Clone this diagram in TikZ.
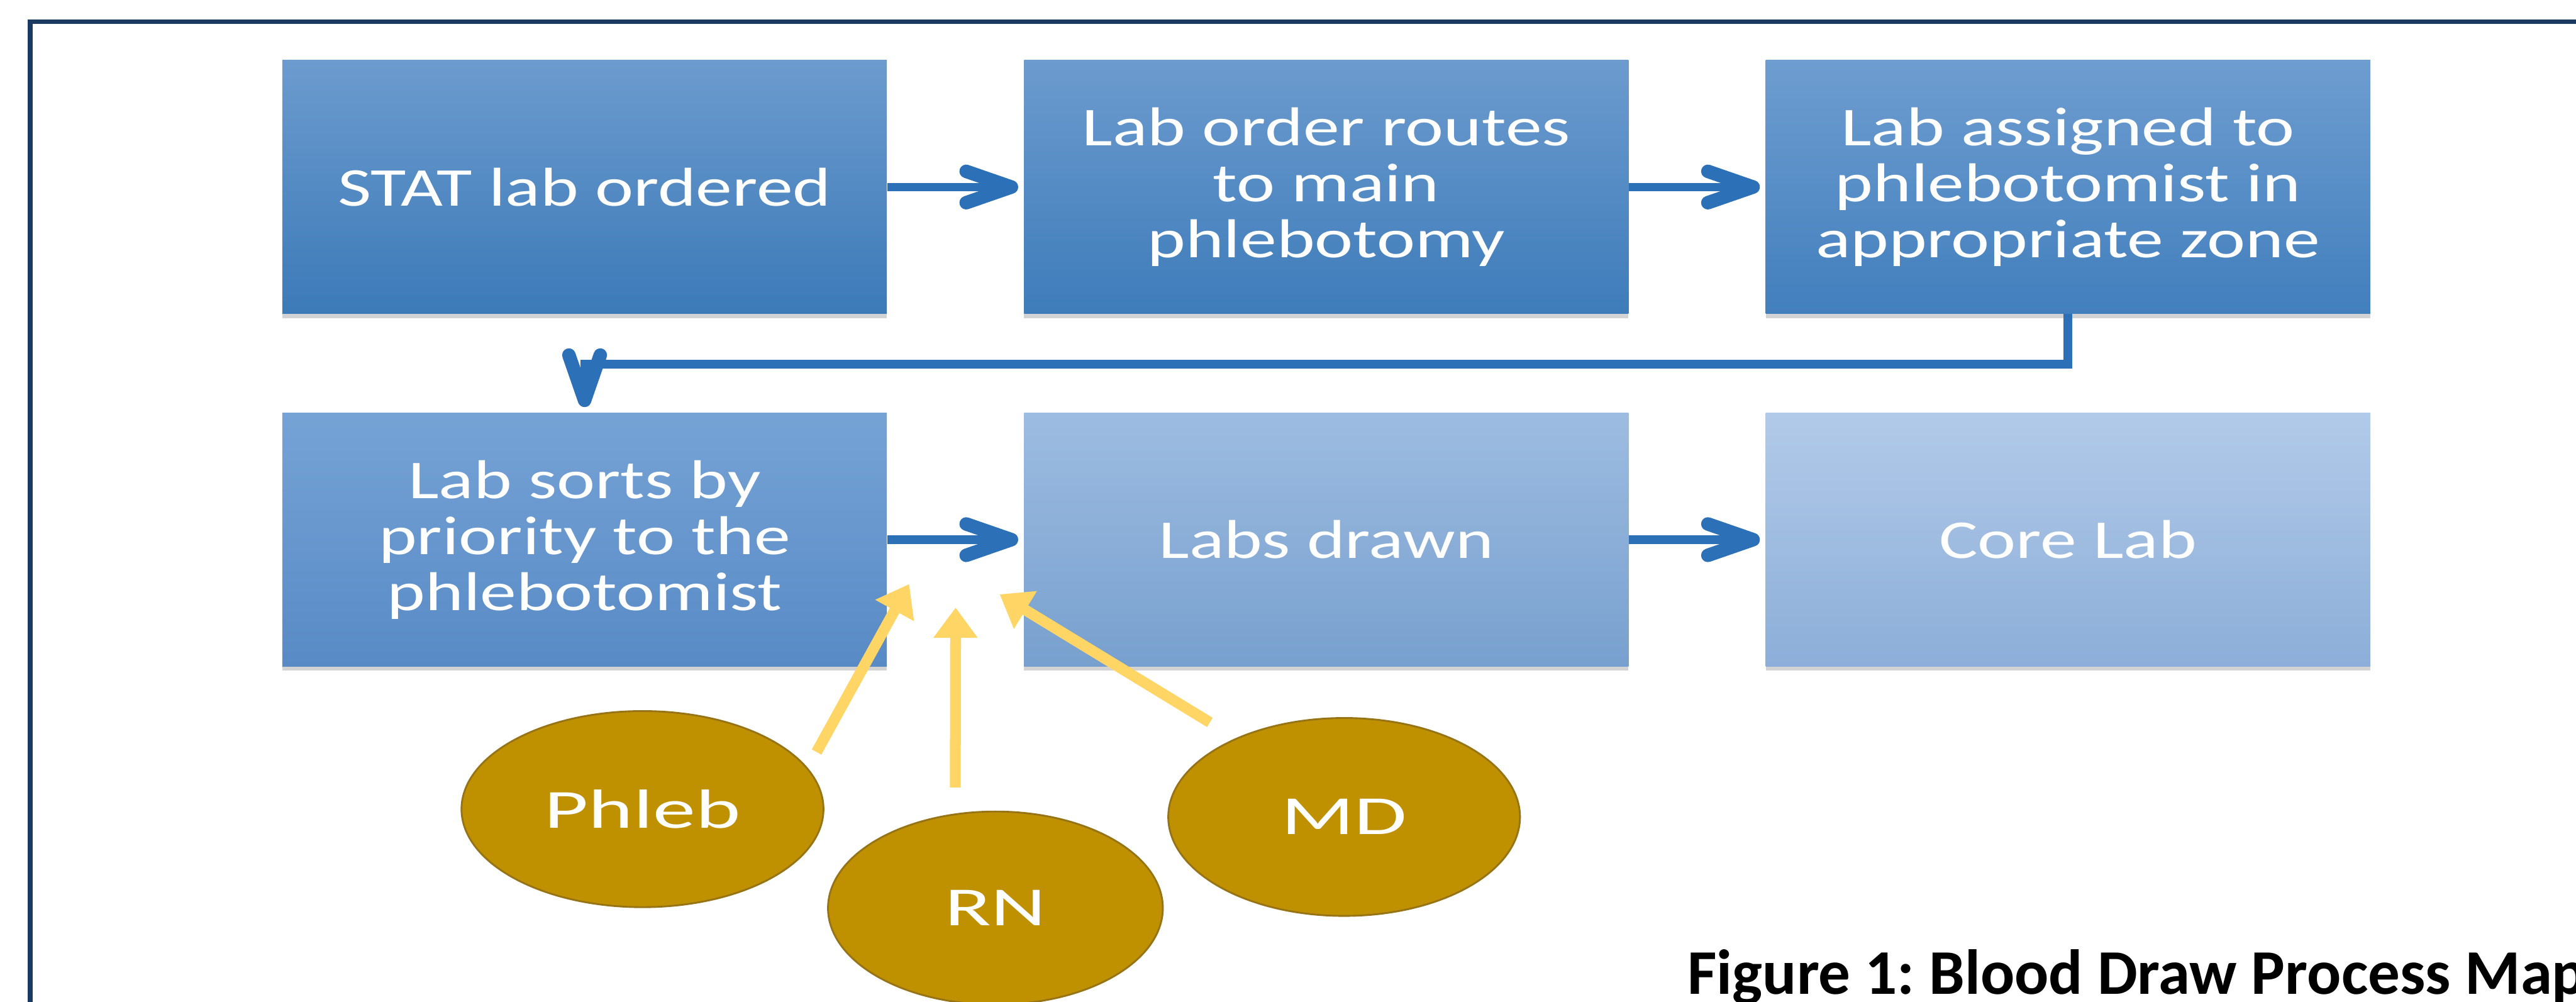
\documentclass[tikz,border=0pt]{standalone}
\usepackage{fontspec}
\setmainfont{Carlito}
\newfontfamily\wideface[FakeStretch=1.33]{Carlito}
\newfontfamily\widerface[FakeStretch=1.55]{Carlito}
\usepackage{tikz}
\usetikzlibrary{positioning,arrows.meta,shadows,shapes.geometric}
\definecolor{frameblue}{RGB}{28,57,97}
\definecolor{flowblue}{RGB}{44,112,183}
\definecolor{feedyellow}{RGB}{255,214,102}
\definecolor{staffgold}{RGB}{191,144,0}
\definecolor{staffedge}{RGB}{150,115,20}
\tikzstyle{box} = [rectangle,minimum width=10.02cm,minimum height=4.2cm,inner sep=0pt,align=center,text=white,font=\wideface\fontsize{25.8}{26.4}\selectfont,drop shadow={shadow xshift=0pt,shadow yshift=-0.7mm,opacity=0.35}]
\tikzstyle{flow} = [-{Straight Barb[length=7.5mm,width=5.2mm,line width=0pt 1.6,round]},line width=1.4mm,flowblue,shorten >=0.9mm]
\tikzstyle{feed} = [-{Triangle[length=5mm,width=7mm]},line width=1.8mm,feedyellow]
\tikzstyle{staff} = [ellipse,inner sep=0pt,fill=staffgold,draw=staffedge,line width=0.3mm,text=white,font=\widerface\fontsize{26}{27}\selectfont]

\begin{document}
\frenchspacing
\begin{tikzpicture}
          \useasboundingbox (0,0) rectangle (42.7,16.6);
          \draw[frameblue,line width=0.8mm] (0.5,-1) |- (44,16.24);

          \node[box,top color={rgb,255:red,108;green,155;blue,206},bottom color={rgb,255:red,60;green,122;blue,184}] at (9.69,13.5) (order) {STAT lab ordered};
          \node[box,right=2.26cm of order,top color={rgb,255:red,108;green,155;blue,206},bottom color={rgb,255:red,62;green,124;blue,186}] (route) {Lab order routes\\to main\\phlebotomy};
          \node[box,right=2.26cm of route,top color={rgb,255:red,110;green,157;blue,208},bottom color={rgb,255:red,66;green,127;blue,189}] (assign) {Lab assigned to\\phlebotomist in\\appropriate zone};
          \node[box,below=1.63cm of order,top color={rgb,255:red,118;green,163;blue,214},bottom color={rgb,255:red,88;green,138;blue,197}] (sort) {Lab sorts by\\priority to the\\phlebotomist};
          \node[box,right=2.26cm of sort,top color={rgb,255:red,157;green,188;blue,225},bottom color={rgb,255:red,120;green,160;blue,206}] (drawn) {Labs drawn};
          \node[box,right=2.26cm of drawn,top color={rgb,255:red,178;green,202;blue,233},bottom color={rgb,255:red,140;green,174;blue,216}] (core) {Core Lab};

          \node[staff,minimum width=6cm,minimum height=3.25cm] at (10.65,3.19) (phleb) {Phleb};
          \node[staff,minimum width=5.55cm,minimum height=3.2cm] at (16.5,1.55) (rn) {RN};
          \node[staff,minimum width=5.83cm,minimum height=3.28cm] at (22.28,3.06) (md) {MD};

          \coordinate (in1) at (15.07,6.92);
          \coordinate (in2) at (15.84,6.53);
          \coordinate (in3) at (16.57,6.75);

          \draw[flow] (order) -- (route);
          \draw[flow] (route) -- (assign);
          \draw[flow] (assign.south) -- ++(0,-0.83) -| (sort.north);
          \draw[flow] (sort) -- (drawn);
          \draw[flow] (drawn) -- (core);

          \draw[feed,shorten <=3mm] (phleb.14) -- (in1);
          \draw[feed,shorten <=4.3mm] (rn.113) -- (in2);
          \draw[feed,shorten <=5mm] (md.144) -- (in3);

          \node[anchor=base west,font=\fontsize{30}{36}\selectfont\bfseries] at (27.85,0.12) (caption) {Figure 1: Blood Draw Process Map};
        \end{tikzpicture}
\end{document}
